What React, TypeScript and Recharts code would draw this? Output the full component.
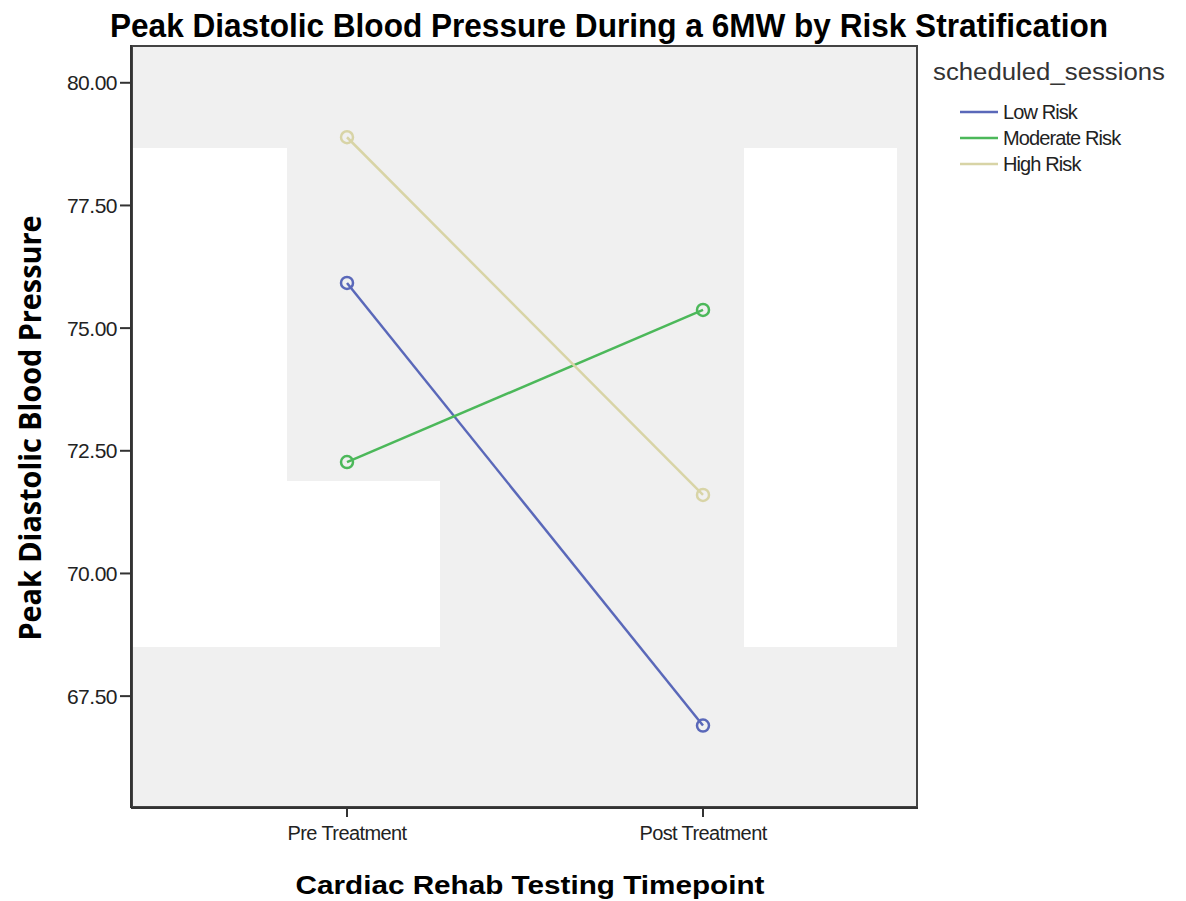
import React from 'react';
import { LineChart, Line, XAxis, YAxis, Legend } from 'recharts';

const timepoints = ['Pre Treatment', 'Post Treatment'];
const lowRisk = [75.92, 66.9];
const moderateRisk = [72.27, 75.37];
const highRisk = [78.89, 71.6];
const yTicks = [67.5, 70, 72.5, 75, 77.5, 80];

const series = [
  { key: 'low', name: 'Low Risk', color: '#5a68b9' },
  { key: 'moderate', name: 'Moderate Risk', color: '#4cb85a' },
  { key: 'high', name: 'High Risk', color: '#d8d4a6' },
];

const data = timepoints.map((t, i) => ({
  time: t,
  low: lowRisk[i],
  moderate: moderateRisk[i],
  high: highRisk[i],
}));

// plot box in page pixels
const PLOT = { left: 131, top: 45, right: 918, bottom: 808 };

// white blotches in the original picture's plot background
const blotches = [
  { left: 133, top: 148, width: 154, height: 499 },
  { left: 287, top: 481, width: 153, height: 166 },
  { left: 744, top: 148, width: 153, height: 499 },
];

const FONT = "'Liberation Sans', Arial, sans-serif";

const LegendBox = () => (
  <svg width={250} height={130} style={{ display: 'block' }}>
    <text x={3} y={25} fontFamily={FONT} fontSize={23}
      fill="#333" textLength={232} lengthAdjust="spacingAndGlyphs">scheduled_sessions</text>
    {series.map((s, i) => (
      <g key={s.key}>
        <line x1={30} x2={68} y1={57 + i * 26} y2={57 + i * 26} stroke={s.color} strokeWidth={2.5} />
        <text x={73} y={64 + i * 26} fontFamily={FONT} fontSize={20}
          fill="#222" letterSpacing={-0.9}>{s.name}</text>
      </g>
    ))}
  </svg>
);

const App: React.FC = () => {
  return (
    <div style={{ position: 'absolute', left: 0, top: 0, width: 1186, height: 901, background: '#fff' }}>
      {/* plot background */}
      <div style={{
        position: 'absolute', left: PLOT.left, top: PLOT.top,
        width: PLOT.right - PLOT.left, height: PLOT.bottom - PLOT.top,
        background: '#f0f0f0', boxSizing: 'border-box', border: '2px solid #444',
      }} />
      {blotches.map((b, i) => (
        <div key={i} style={{ position: 'absolute', background: '#fff', ...b }} />
      ))}

      <div style={{ position: 'absolute', left: 0, top: 0 }}>
        <LineChart
          width={1186}
          height={901}
          data={data}
          margin={{ top: PLOT.top, left: PLOT.left - 70, right: 1186 - PLOT.right, bottom: 901 - PLOT.bottom - 40 }}
        >
          <XAxis
            dataKey="time"
            height={40}
            padding={{ left: 216, right: 215 }}
            axisLine={{ stroke: '#333', strokeWidth: 2 }}
            tickLine={{ stroke: '#333', strokeWidth: 2 }}
            tickSize={9}
            tickMargin={9}
            tick={{ fill: '#222', fontSize: 20, fontFamily: FONT, letterSpacing: -0.6 }}
          />
          <YAxis
            width={70}
            domain={[65.22, 80.77]}
            ticks={yTicks}
            allowDataOverflow
            tickFormatter={(v: number) => v.toFixed(2)}
            axisLine={{ stroke: '#333', strokeWidth: 2 }}
            tickLine={{ stroke: '#333', strokeWidth: 2 }}
            tickSize={11}
            tickMargin={3}
            tick={{ fill: '#222', fontSize: 21, fontFamily: FONT, letterSpacing: -0.5 }}
          />
          <Legend
            layout="horizontal"
            verticalAlign="middle"
            align="center"
            wrapperStyle={{ position: 'absolute', left: 930, top: 55, width: 250, height: 130 }}
            content={() => <LegendBox />}
          />
          {series.map((s) => (
            <Line
              key={s.key}
              dataKey={s.key}
              name={s.name}
              stroke={s.color}
              strokeWidth={2.5}
              dot={{ r: 6, stroke: s.color, strokeWidth: 2.5, fill: 'none' }}
              activeDot={false}
              isAnimationActive={false}
            />
          ))}
        </LineChart>
      </div>

      {/* titles */}
      <svg width={1186} height={901} style={{ position: 'absolute', left: 0, top: 0, pointerEvents: 'none' }}>
        <text x={609} y={37} textAnchor="middle" fontFamily={FONT}
          fontWeight="bold" fontSize={34} fill="#000" textLength={998} lengthAdjust="spacingAndGlyphs">
          Peak Diastolic Blood Pressure During a 6MW by Risk Stratification
        </text>
        <text x={530} y={894} textAnchor="middle" fontFamily={FONT}
          fontWeight="bold" fontSize={26} fill="#000" textLength={469} lengthAdjust="spacingAndGlyphs">
          Cardiac Rehab Testing Timepoint
        </text>
        <text transform="translate(41,428) rotate(-90)" textAnchor="middle"
          fontFamily="'Open Sans', 'DejaVu Sans', sans-serif" fontWeight="bold" fontSize={30} fill="#000"
          textLength={425} lengthAdjust="spacingAndGlyphs">
          Peak Diastolic Blood Pressure
        </text>
      </svg>
    </div>
  );
};

export default App;
